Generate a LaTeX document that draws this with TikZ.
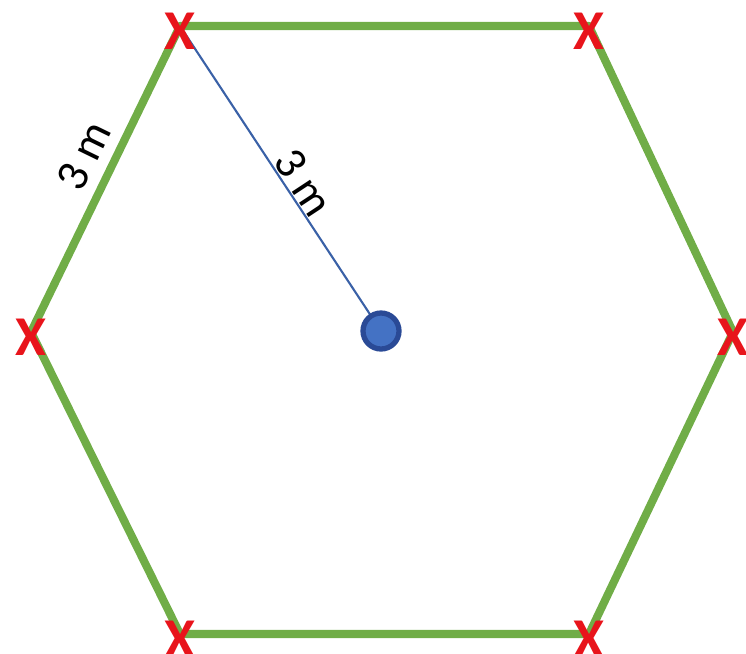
\documentclass[tikz,border=0pt]{standalone}
\usepackage{fontspec}
\setmainfont{Carlito}
\begin{document}
\begin{tikzpicture}[x=0.02cm,y=-0.02cm,
  edge/.style={draw=hexgreen,line width=4.6pt,line join=round},
  xmark/.style={text=xred,font=\fontsize{32}{32}\selectfont\bfseries,inner sep=0pt},
  lbl/.style={font=\fontsize{26}{26}\selectfont,inner sep=1pt}]
\definecolor{hexgreen}{HTML}{70AD47}
\definecolor{xred}{HTML}{E8141B}
\definecolor{dotfill}{HTML}{4472C4}
\definecolor{dotline}{HTML}{2A4A96}
\useasboundingbox (0,0) rectangle (746,653);
\coordinate (A) at (180,26);
\coordinate (B) at (589,26);
\coordinate (C) at (733,332);
\coordinate (D) at (589,634);
\coordinate (E) at (180,634);
\coordinate (F) at (31,332);
\coordinate (O) at (381,331);
\draw[edge] (A) -- (B) -- (C) -- (D) -- (E) -- (F) -- cycle;
\draw[dotfill!85!black,line width=1.2pt] (A) -- (O);
\node[circle,fill=dotfill,draw=dotline,line width=3pt,minimum size=0.72cm,inner sep=0pt] (dot) at (O) {};
\foreach \p/\n in {A/xa,B/xb,C/xc,D/xd,E/xe,F/xf}
  \node[xmark] (\n) at ([yshift=-3]\p) {X};
\node[lbl,rotate=64] (l1) at (84,156) {3 m};
\node[lbl,rotate=-56.6] (l2) at (304,183) {3 m};
\end{tikzpicture}
\end{document}
